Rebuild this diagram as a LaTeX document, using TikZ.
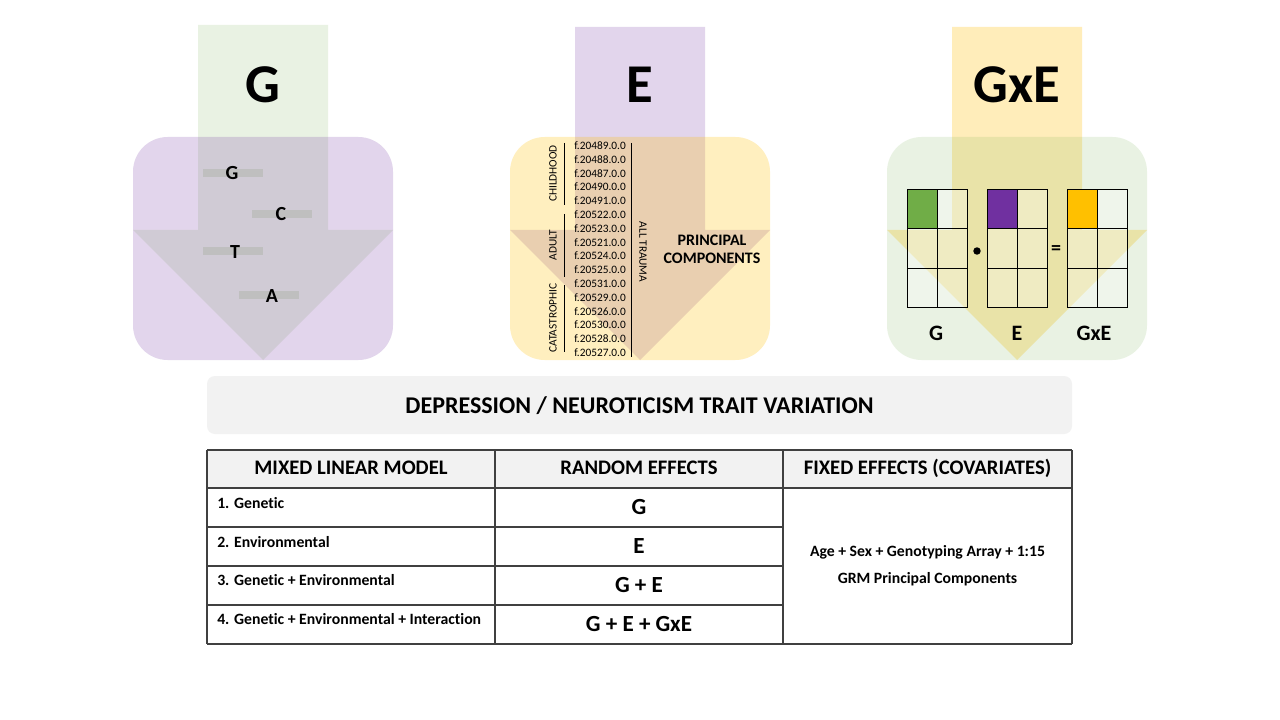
\documentclass[tikz,border=0pt]{standalone}
\usepackage{fontspec}
\setmainfont[Ligatures={NoCommon}]{Carlito}
\definecolor{cgreen}{HTML}{70AD47}
\definecolor{cpurple}{HTML}{7030A0}
\definecolor{cgold}{HTML}{FFC000}
\definecolor{lightgrey}{HTML}{F2F2F2}
\definecolor{bargrey}{HTML}{BFBFBF}
\definecolor{tableline}{HTML}{404040}
\tikzset{
  bigletter/.style={font=\bfseries\fontsize{41}{48}\selectfont, inner sep=0pt, anchor=base},
  base/.style={font=\bfseries\fontsize{15}{18}\selectfont, inner sep=0pt, anchor=base},
  fid/.style={font=\fontsize{8.5}{10}\selectfont, inner sep=0pt, anchor=base west},
  grouplabel/.style={font=\fontsize{8.5}{10}\selectfont, inner sep=0pt},
  pclabel/.style={font=\bfseries\fontsize{12}{14}\selectfont, inner sep=0pt, anchor=base},
  mlabel/.style={font=\bfseries\fontsize{16.5}{20}\selectfont, inner sep=0pt, anchor=base},
  thead/.style={font=\bfseries\fontsize{15.5}{18}\selectfont, inner sep=0pt, anchor=base},
  trow/.style={font=\bfseries\fontsize{11.8}{14}\selectfont, inner sep=0pt, anchor=base west},
  reff/.style={font=\bfseries\fontsize{17.3}{20}\selectfont, inner sep=0pt, anchor=base},
  feff/.style={font=\bfseries\fontsize{11.8}{14}\selectfont, inner sep=0pt, anchor=base},
  titletext/.style={font=\bfseries\fontsize{18}{22}\selectfont, inner sep=0pt, anchor=base},
  panelbox/.style={rounded corners=26pt},
  tline/.style={draw=tableline, line width=0.9pt},
  bracket/.style={draw=black, line width=0.75pt},
  gridline/.style={draw=black, line width=0.75pt},
}
\begin{document}
\begin{tikzpicture}[x=0.75pt,y=-0.75pt]
\useasboundingbox (0,0) rectangle (1280,720);
\fill[white] (0,0) rectangle (1280,720);

% ---------------- Panel G ----------------
\fill[cgreen, fill opacity=0.15] (198,25) -- (328,25) -- (328,230) -- (393,230) -- (263,360) -- (133,230) -- (198,230) -- cycle;
\fill[cpurple, fill opacity=0.2, panelbox] (133,137) rectangle (393,360);
\node[bigletter] (Gtitle) at (263,103) {G};
\fill[bargrey] (203,169) rectangle (263,177);
\fill[bargrey] (252,210) rectangle (312,218);
\fill[bargrey] (203,247) rectangle (263,255);
\fill[bargrey] (239,291) rectangle (299,299);
\node[base] (bG) at (232,180) {G};
\node[base] (bC) at (281,221) {C};
\node[base] (bT) at (235,258) {T};
\node[base] (bA) at (272,302.5) {A};

% ---------------- Panel E ----------------
\fill[cpurple, fill opacity=0.2] (575,27) -- (705,27) -- (705,230) -- (770,230) -- (640,360) -- (510,230) -- (575,230) -- cycle;
\fill[cgold, fill opacity=0.25, panelbox] (510,137) rectangle (770,360);
\node[bigletter] (Etitle) at (640,103) {E};
\foreach \f [count=\i from 0] in {20489,20488,20487,20490,20491,20522,20523,20521,20524,20525,20531,20529,20526,20530,20528,20527}
  \node[fid] (f\i) at (574,149.5+13.8*\i) {f.\f.0.0};
\coordinate (chA) at (564.5,143);
\coordinate (chB) at (564.5,205);
\coordinate (adA) at (564.5,214);
\coordinate (adB) at (564.5,277);
\coordinate (caA) at (564.5,285);
\coordinate (caB) at (564.5,352);
\coordinate (atA) at (631,143);
\coordinate (atB) at (631,357);
\draw[bracket] (chA) -- (chB);
\draw[bracket] (adA) -- (adB);
\draw[bracket] (caA) -- (caB);
\draw[bracket] (atA) -- (atB);
\node[grouplabel, rotate=90] (childhood) at (553,173.5) {CHILDHOOD};
\node[grouplabel, rotate=90] (adult) at (553,245) {ADULT};
\node[grouplabel, rotate=90] (catas) at (553,318) {CATASTROPHIC};
\node[grouplabel, rotate=-90] (alltrauma) at (643,252) {ALL TRAUMA};
\node[pclabel] (pc1) at (712,245) {PRINCIPAL};
\node[pclabel] (pc2) at (712,263) {COMPONENTS};

% ---------------- Panel GxE ----------------
\fill[cgold, fill opacity=0.27] (952,27) -- (1082,27) -- (1082,230) -- (1147,230) -- (1017,360) -- (887,230) -- (952,230) -- cycle;
\fill[cgreen, fill opacity=0.15, panelbox] (887,137) rectangle (1147,360);
\node[bigletter] (GEtitle) at (1017,103) {GxE};
\foreach \gx/\col in {907/cgreen,987/cpurple,1067/cgold} {
  \fill[white, fill opacity=0.3] (\gx,190) rectangle (\gx+60,307);
  \fill[\col] (\gx,190) rectangle (\gx+30,229);
  \draw[gridline] (\gx,190) rectangle (\gx+60,307);
  \draw[gridline] (\gx+30,190) -- (\gx+30,307);
  \draw[gridline] (\gx,229) -- (\gx+60,229);
  \draw[gridline] (\gx,268) -- (\gx+60,268);
}
\fill[black] (977,251) circle (2.8pt);
\node[font=\bfseries\fontsize{15}{18}\selectfont, inner sep=0pt] (eq) at (1056,250) {=};
\node[mlabel] (lG) at (936,340) {G};
\node[mlabel] (lE) at (1017,340) {E};
\node[mlabel] (lGE) at (1094,340) {GxE};

% ---------------- Title bar ----------------
\fill[lightgrey, rounded corners=6pt] (207,376) rectangle (1072,434);
\node[titletext] (title) at (639.5,413.5) {DEPRESSION / NEUROTICISM TRAIT VARIATION};

% ---------------- Table ----------------
\fill[lightgrey] (207,450) rectangle (1072,488);
\draw[tline] (207,450) -- (1072,450);
\draw[tline] (207,488) -- (1072,488);
\draw[tline] (207,527) -- (783,527);
\draw[tline] (207,566) -- (783,566);
\draw[tline] (207,605) -- (783,605);
\draw[tline] (207,644) -- (1072,644);
\draw[tline] (207,450) -- (207,644);
\draw[tline] (495,450) -- (495,644);
\draw[tline] (783,450) -- (783,644);
\draw[tline] (1072,450) -- (1072,644);

\node[thead] (h1) at (351,474.7) {MIXED LINEAR MODEL};
\node[thead] (h2) at (639,474.7) {RANDOM EFFECTS};
\node[thead] (h3) at (927.5,474.7) {FIXED EFFECTS (COVARIATES)};

\node[trow] (r1) at (217,508.3) {1. Genetic};
\node[trow] (r2) at (217,547.3) {2. Environmental};
\node[trow] (r3) at (217,585.7) {3. Genetic + Environmental};
\node[trow] (r4) at (217,624.3) {4. Genetic + Environmental + Interaction};

\node[reff] (e1) at (639,514.8) {G};
\node[reff] (e2) at (639,553.8) {E};
\node[reff] (e3) at (639,592.8) {G + E};
\node[reff] (e4) at (639,631.8) {G + E + GxE};

\node[feff] (fx1) at (927.5,556.7) {Age + Sex + Genotyping Array + 1:15};
\node[feff] (fx2) at (927.5,583.3) {GRM Principal Components};
\end{tikzpicture}
\end{document}
